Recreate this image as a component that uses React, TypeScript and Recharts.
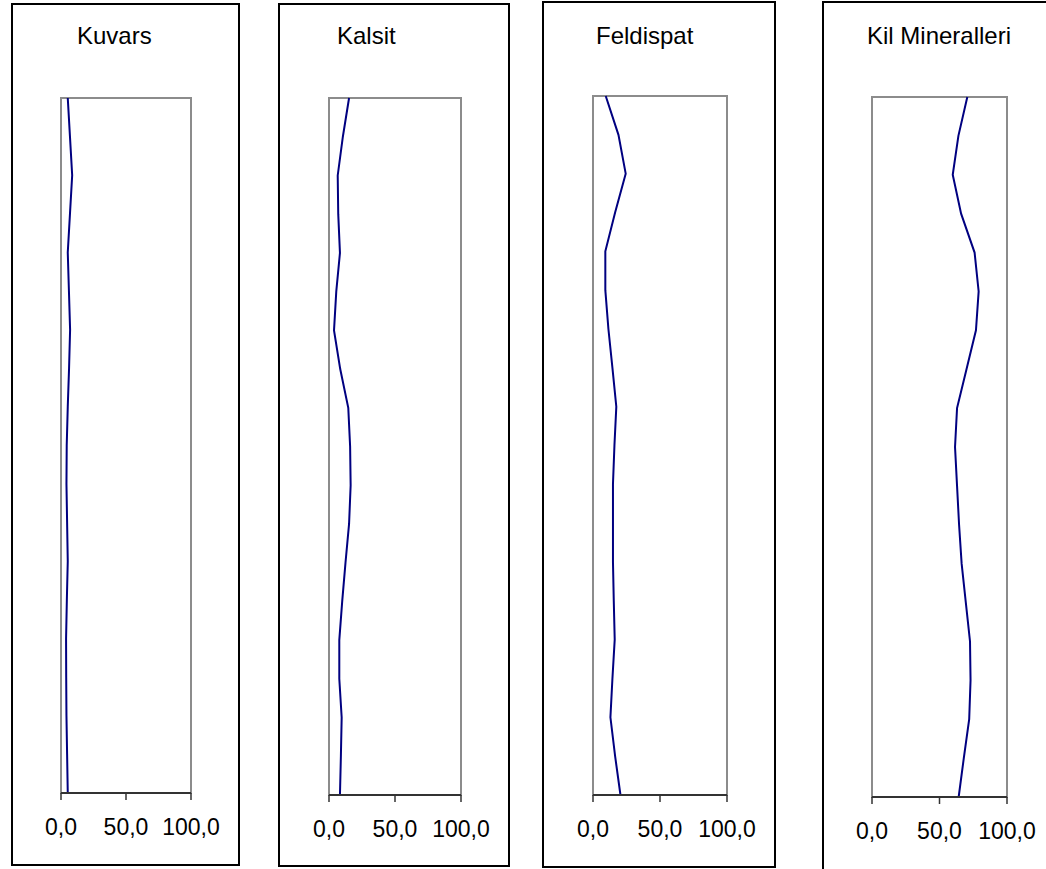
import { LineChart, Line, XAxis, YAxis, ReferenceArea } from 'recharts';

// sample positions down the profile (top to bottom)
const samples = [1, 2, 3, 4, 5, 6, 7, 8, 9, 10, 11, 12, 13, 14, 15, 16, 17, 18, 19];

const kuvars = [5.2, 6.9, 8.6, 6.9, 5.2, 6.1, 7.0, 6.2, 5.2, 4.4, 4.2, 4.7, 5.2, 4.5, 3.9, 4.0, 4.2, 4.7, 5.2];
const kalsit = [15.2, 10.5, 6.6, 7.0, 8.3, 5.5, 3.8, 8.5, 14.6, 16.0, 16.4, 15.2, 12.5, 10.0, 7.8, 7.8, 9.6, 9.0, 8.3];
const feldispat = [9.5, 19.0, 24.4, 16.5, 9.2, 9.2, 11.5, 14.5, 17.4, 16.0, 14.9, 14.9, 14.9, 15.5, 16.2, 14.5, 13.0, 16.5, 20.5];
const kilMineralleri = [70.6, 64.0, 59.8, 66.0, 76.0, 79.0, 77.0, 70.0, 63.0, 61.5, 63.0, 64.5, 66.4, 69.5, 72.6, 73.0, 72.0, 68.0, 64.2];

const xTicks = [0, 50, 100];

const panels = [
  { title: 'Kuvars', values: kuvars, box: { l: 11, t: 3, r: 240, b: 866 }, plot: { l: 61, t: 98, r: 191, b: 793 }, titleX: 77 },
  { title: 'Kalsit', values: kalsit, box: { l: 278, t: 3, r: 510, b: 867 }, plot: { l: 329, t: 98, r: 461, b: 795 }, titleX: 337 },
  { title: 'Feldispat', values: feldispat, box: { l: 542, t: 1, r: 776, b: 868 }, plot: { l: 593, t: 96, r: 727, b: 795 }, titleX: 596 },
  { title: 'Kil Mineralleri', values: kilMineralleri, box: { l: 822, t: 1, r: 1080, b: 900 }, plot: { l: 872, t: 97, r: 1007, b: 797 }, titleX: 867 },
];

const font = '"Liberation Sans", Arial, sans-serif';
const fmt = (v: number) => v.toFixed(1).replace('.', ',');

const MARGIN_X = 45;
const MARGIN_TOP = 10;
const AXIS_H = 60;

function Panel({ p }: { p: (typeof panels)[number] }) {
  const data = samples.map((s, i) => ({ sample: s, value: p.values[i] }));
  const plotW = p.plot.r - p.plot.l;
  const plotH = p.plot.b - p.plot.t;
  return (
    <>
      <div
        style={{
          position: 'absolute',
          left: p.box.l,
          top: p.box.t,
          width: p.box.r - p.box.l,
          height: p.box.b - p.box.t,
          border: '2px solid #000',
          boxSizing: 'border-box',
        }}
      />
      <div
        style={{
          position: 'absolute',
          left: p.titleX,
          top: 24,
          fontFamily: font,
          fontSize: 24,
          lineHeight: '24px',
          color: '#000',
          whiteSpace: 'nowrap',
        }}
      >
        {p.title}
      </div>
      <div style={{ position: 'absolute', left: p.plot.l - MARGIN_X, top: p.plot.t - MARGIN_TOP }}>
        <LineChart
          width={plotW + MARGIN_X * 2}
          height={plotH + MARGIN_TOP + AXIS_H}
          data={data}
          layout="vertical"
          margin={{ top: MARGIN_TOP, right: MARGIN_X, bottom: 0, left: MARGIN_X }}
        >
          <ReferenceArea x1={0} x2={100} stroke="#8c8c8c" strokeWidth={2} fill="none" fillOpacity={0} />
          <XAxis
            type="number"
            domain={[0, 100]}
            ticks={xTicks}
            tickFormatter={fmt}
            height={AXIS_H}
            axisLine={{ stroke: '#333', strokeWidth: 2 }}
            tickLine={{ stroke: '#333', strokeWidth: 1.5 }}
            tickSize={7}
            tickMargin={19}
            tick={{ fontFamily: font, fontSize: 23, fill: '#000' }}
            interval={0}
          />
          <YAxis type="category" dataKey="sample" hide />
          <Line
            dataKey="value"
            type="linear"
            stroke="#000080"
            strokeWidth={2}
            dot={false}
            isAnimationActive={false}
          />
        </LineChart>
      </div>
    </>
  );
}

export default function App() {
  return (
    <div style={{ position: 'absolute', left: 0, top: 0, width: 1046, height: 869, overflow: 'hidden', background: '#fff' }}>
      {panels.map((p) => (
        <Panel key={p.title} p={p} />
      ))}
    </div>
  );
}
